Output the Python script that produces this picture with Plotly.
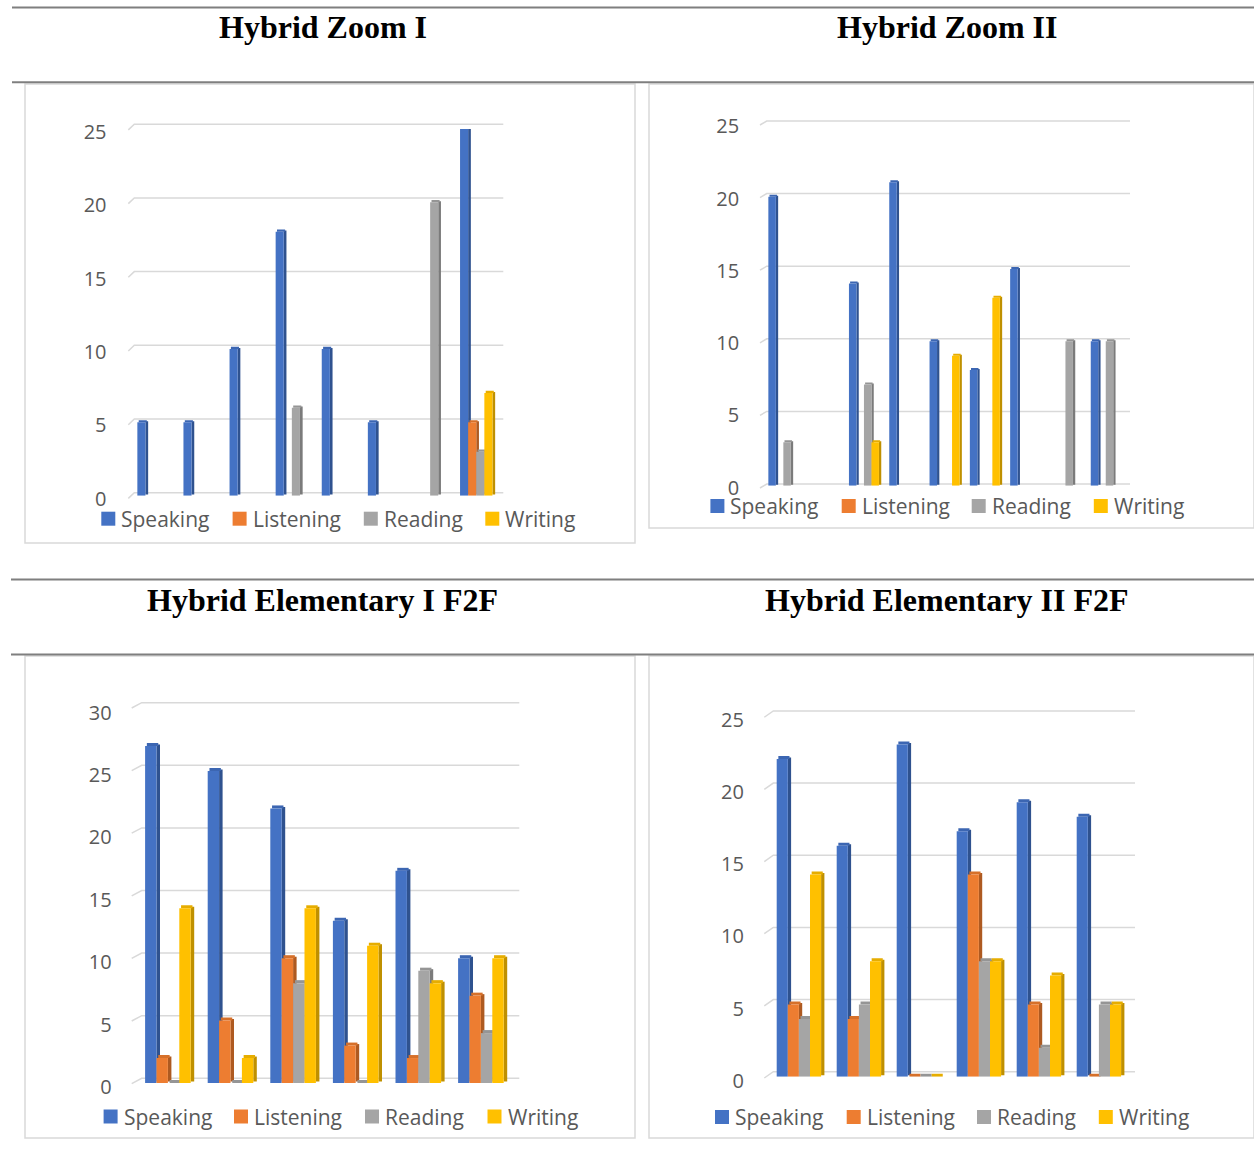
import plotly.graph_objects as go

W, H = 1254, 1168

# ---- data -------------------------------------------------------------
skills = ["Speaking", "Listening", "Reading", "Writing"]
front_colors = ["#4472C4", "#ED7D31", "#A5A5A5", "#FFC000"]
side_colors = ["#2F528F", "#AE5A21", "#7B7B7B", "#BF9000"]
top_colors = ["#3C66B2", "#D6702A", "#959595", "#E6AD00"]

ticks_25 = [0, 5, 10, 15, 20, 25]
ticks_30 = [0, 5, 10, 15, 20, 25, 30]

# Hybrid Zoom I (8 groups, blank cells left empty)
zoom1_speaking = [5, 5, 10, 18, 10, 5, None, 25]
zoom1_listening = [None, None, None, None, None, None, None, 5]
zoom1_reading = [None, None, None, 6, None, None, 20, 3]
zoom1_writing = [None, None, None, None, None, None, None, 7]

# Hybrid Zoom II (9 groups)
zoom2_speaking = [20, None, 14, 21, 10, 8, 15, None, 10]
zoom2_listening = [None, None, None, None, None, None, None, None, None]
zoom2_reading = [3, None, 7, None, None, None, None, 10, 10]
zoom2_writing = [None, None, 3, None, 9, 13, None, None, None]

# Hybrid Elementary I F2F (6 groups)
elem1_speaking = [27, 25, 22, 13, 17, 10]
elem1_listening = [2, 5, 10, 3, 2, 7]
elem1_reading = [0, 0, 8, 0, 9, 4]
elem1_writing = [14, 2, 14, 11, 8, 10]

# Hybrid Elementary II F2F (6 groups)
elem2_speaking = [22, 16, 23, 17, 19, 18]
elem2_listening = [5, 4, 0, 14, 5, 0]
elem2_reading = [4, 5, 0, 8, 2, 5]
elem2_writing = [14, 8, 0, 8, 7, 5]

# ---- panel geometry (pixels) ------------------------------------------
panels = [
    dict(title="Hybrid Zoom I",
         series=[zoom1_speaking, zoom1_listening, zoom1_reading, zoom1_writing],
         ticks=ticks_25, top=25, left=130.5, cat_px=46.1, base_y=495.7, unit_px=14.67,
         slot_px=8.1, depth=(2.7, 2.2),
         wall=dict(base_y=492.7, unit_px=14.74, x0=134.3, x1=503.3, stub=(6, 5.7)),
         label_right=105.5, label_drop=3,
         legend_y=518.7, legend_x=[101.3, 232.6, 363.8, 485.3],
         title_xy=(322.5, 26.5), box=(25, 84, 635, 543)),
    dict(title="Hybrid Zoom II",
         series=[zoom2_speaking, zoom2_listening, zoom2_reading, zoom2_writing],
         ticks=ticks_25, top=25, left=763.2, cat_px=40.3, base_y=485.7, unit_px=14.45,
         slot_px=7.5, depth=(2.3, 2.0),
         wall=dict(base_y=484.0, unit_px=14.52, x0=766.7, x1=1130.0, stub=(6.7, 4.0)),
         label_right=738.0, label_drop=2,
         legend_y=506.0, legend_x=[710.4, 841.7, 971.7, 1093.8],
         title_xy=(946.5, 26.5), box=(649, 84, 1262, 528)),
    dict(title="Hybrid Elementary I F2F",
         series=[elem1_speaking, elem1_listening, elem1_reading, elem1_writing],
         ticks=ticks_30, top=30, left=136.6, cat_px=62.6, base_y=1083.0, unit_px=12.48,
         slot_px=11.4, depth=(3.5, 3.0),
         wall=dict(base_y=1078.3, unit_px=12.52, x0=141.7, x1=519.3, stub=(10.0, 5.3)),
         label_right=110.5, label_drop=4,
         legend_y=1116.5, legend_x=[103.6, 234.0, 365.0, 487.5],
         title_xy=(322.5, 599.7), box=(25, 656, 635, 1138)),
    dict(title="Hybrid Elementary II F2F",
         series=[elem2_speaking, elem2_listening, elem2_reading, elem2_writing],
         ticks=ticks_25, top=25, left=768.9, cat_px=60.0, base_y=1076.7, unit_px=14.44,
         slot_px=11.1, depth=(3.3, 3.0),
         wall=dict(base_y=1071.7, unit_px=14.43, x0=773.3, x1=1135.0, stub=(9.0, 6.3)),
         label_right=742.5, label_drop=4,
         legend_y=1117.0, legend_x=[715.0, 846.7, 977.0, 1098.8],
         title_xy=(946.5, 599.7), box=(649, 656, 1262, 1138)),
]


def fx(px):
    return px / W


def fy(py):
    return 1 - py / H


fig = go.Figure()
shapes = []
annotations = []
layout_axes = {}

# table rules
for y_rule, x_start in [(7.5, 12), (82.3, 12), (579.5, 11), (654.5, 11)]:
    shapes.append(dict(type="line", xref="paper", yref="paper",
                       x0=fx(x_start), x1=1.0, y0=fy(y_rule), y1=fy(y_rule),
                       line=dict(color="#7F7F7F", width=2)))

for k, p in enumerate(panels, start=1):
    xa, ya = f"x{k}", f"y{k}"
    n = len(p["series"][0])
    right = p["left"] + n * p["cat_px"]
    top_px = p["base_y"] - p["unit_px"] * p["top"]

    layout_axes[f"xaxis{k}"] = dict(domain=[fx(p["left"]), fx(right)], range=[-0.5, n - 0.5],
                                    visible=False, anchor=ya, fixedrange=True,
                                    automargin=False)
    layout_axes[f"yaxis{k}"] = dict(domain=[fy(p["base_y"]), fy(top_px)], range=[0, p["top"]],
                                    tickvals=p["ticks"], showgrid=False, zeroline=False,
                                    showline=False, ticks="", anchor=xa, fixedrange=True,
                                    automargin=False,
                                    tickfont=dict(family="Open Sans", size=20, color="#595959"),
                                    ticklabelstandoff=int(round(p["left"] - p["label_right"] - 2)),
                                    ticklabelshift=p["label_drop"])

    # chart frame
    bx0, by0, bx1, by1 = p["box"]
    shapes.append(dict(type="rect", xref="paper", yref="paper",
                       x0=fx(bx0), x1=min(fx(bx1), 1.0), y0=fy(by1), y1=fy(by0),
                       line=dict(color="#D9D9D9", width=1.5), fillcolor="rgba(0,0,0,0)",
                       layer="below"))

    # back-wall gridlines with floor stub
    wall = p["wall"]
    sw_, sh_ = wall["stub"]
    for t in p["ticks"]:
        gy = wall["base_y"] - wall["unit_px"] * t
        path = (f"M {fx(wall['x0'] - sw_)},{fy(gy + sh_)} "
                f"L {fx(wall['x0'])},{fy(gy)} L {fx(wall['x1'])},{fy(gy)}")
        shapes.append(dict(type="path", xref="paper", yref="paper", path=path,
                           line=dict(color="#D9D9D9", width=1.5), layer="below"))

    # 3-D style clustered columns
    slot = p["slot_px"] / p["cat_px"]
    dxu = p["depth"][0] / p["cat_px"]
    dyu = p["depth"][1] / p["unit_px"]
    for j, vals in enumerate(p["series"]):
        idx = [i for i, v in enumerate(vals) if v is not None]
        if not idx:
            continue
        xc = [i + (j - 1.5) * slot for i in idx]
        vs = [vals[i] for i in idx]
        common = dict(xaxis=xa, yaxis=ya, showlegend=False, cliponaxis=False, hoverinfo="skip")
        # side face
        fig.add_trace(go.Bar(x=[x + slot / 2 + dxu / 2 for x in xc], y=vs,
                             base=[dyu / 2] * len(vs), width=[dxu] * len(vs),
                             marker=dict(color=side_colors[j], line=dict(width=0)), **common))
        # top face
        fig.add_trace(go.Bar(x=[x + dxu / 2 for x in xc], y=[dyu] * len(vs),
                             base=vs, width=[slot] * len(vs),
                             marker=dict(color=top_colors[j], line=dict(width=0)), **common))
        # front face
        fig.add_trace(go.Bar(x=xc, y=vs, base=[0] * len(vs), width=[slot] * len(vs),
                             name=skills[j],
                             marker=dict(color=front_colors[j], line=dict(width=0)),
                             xaxis=xa, yaxis=ya, showlegend=False, cliponaxis=False,
                             hovertemplate=skills[j] + ": %{y}<extra></extra>"))

    # legend
    for j, name in enumerate(skills):
        mx = p["legend_x"][j]
        my = p["legend_y"]
        shapes.append(dict(type="rect", xref="paper", yref="paper",
                           x0=fx(mx), x1=fx(mx + 14), y0=fy(my + 7), y1=fy(my - 7),
                           fillcolor=front_colors[j], line=dict(width=0)))
        annotations.append(dict(text=name, xref="paper", yref="paper",
                                x=fx(mx + 18), y=fy(my), xanchor="left", yanchor="middle",
                                showarrow=False,
                                font=dict(family="Open Sans", size=21, color="#595959")))

    # panel title
    tx, ty = p["title_xy"]
    annotations.append(dict(text=f"<b>{p['title']}</b>", xref="paper", yref="paper",
                            x=fx(tx), y=fy(ty), xanchor="center", yanchor="middle",
                            showarrow=False,
                            font=dict(family="Liberation Serif", size=32, color="#000000")))

fig.update_layout(width=W, height=H,
                  margin=dict(l=0, r=0, t=0, b=0, pad=0, autoexpand=False),
                  paper_bgcolor="white", plot_bgcolor="white",
                  barmode="overlay", showlegend=False,
                  shapes=shapes, annotations=annotations, **layout_axes)

fig.write_html("out.html", config={"displayModeBar": False})
